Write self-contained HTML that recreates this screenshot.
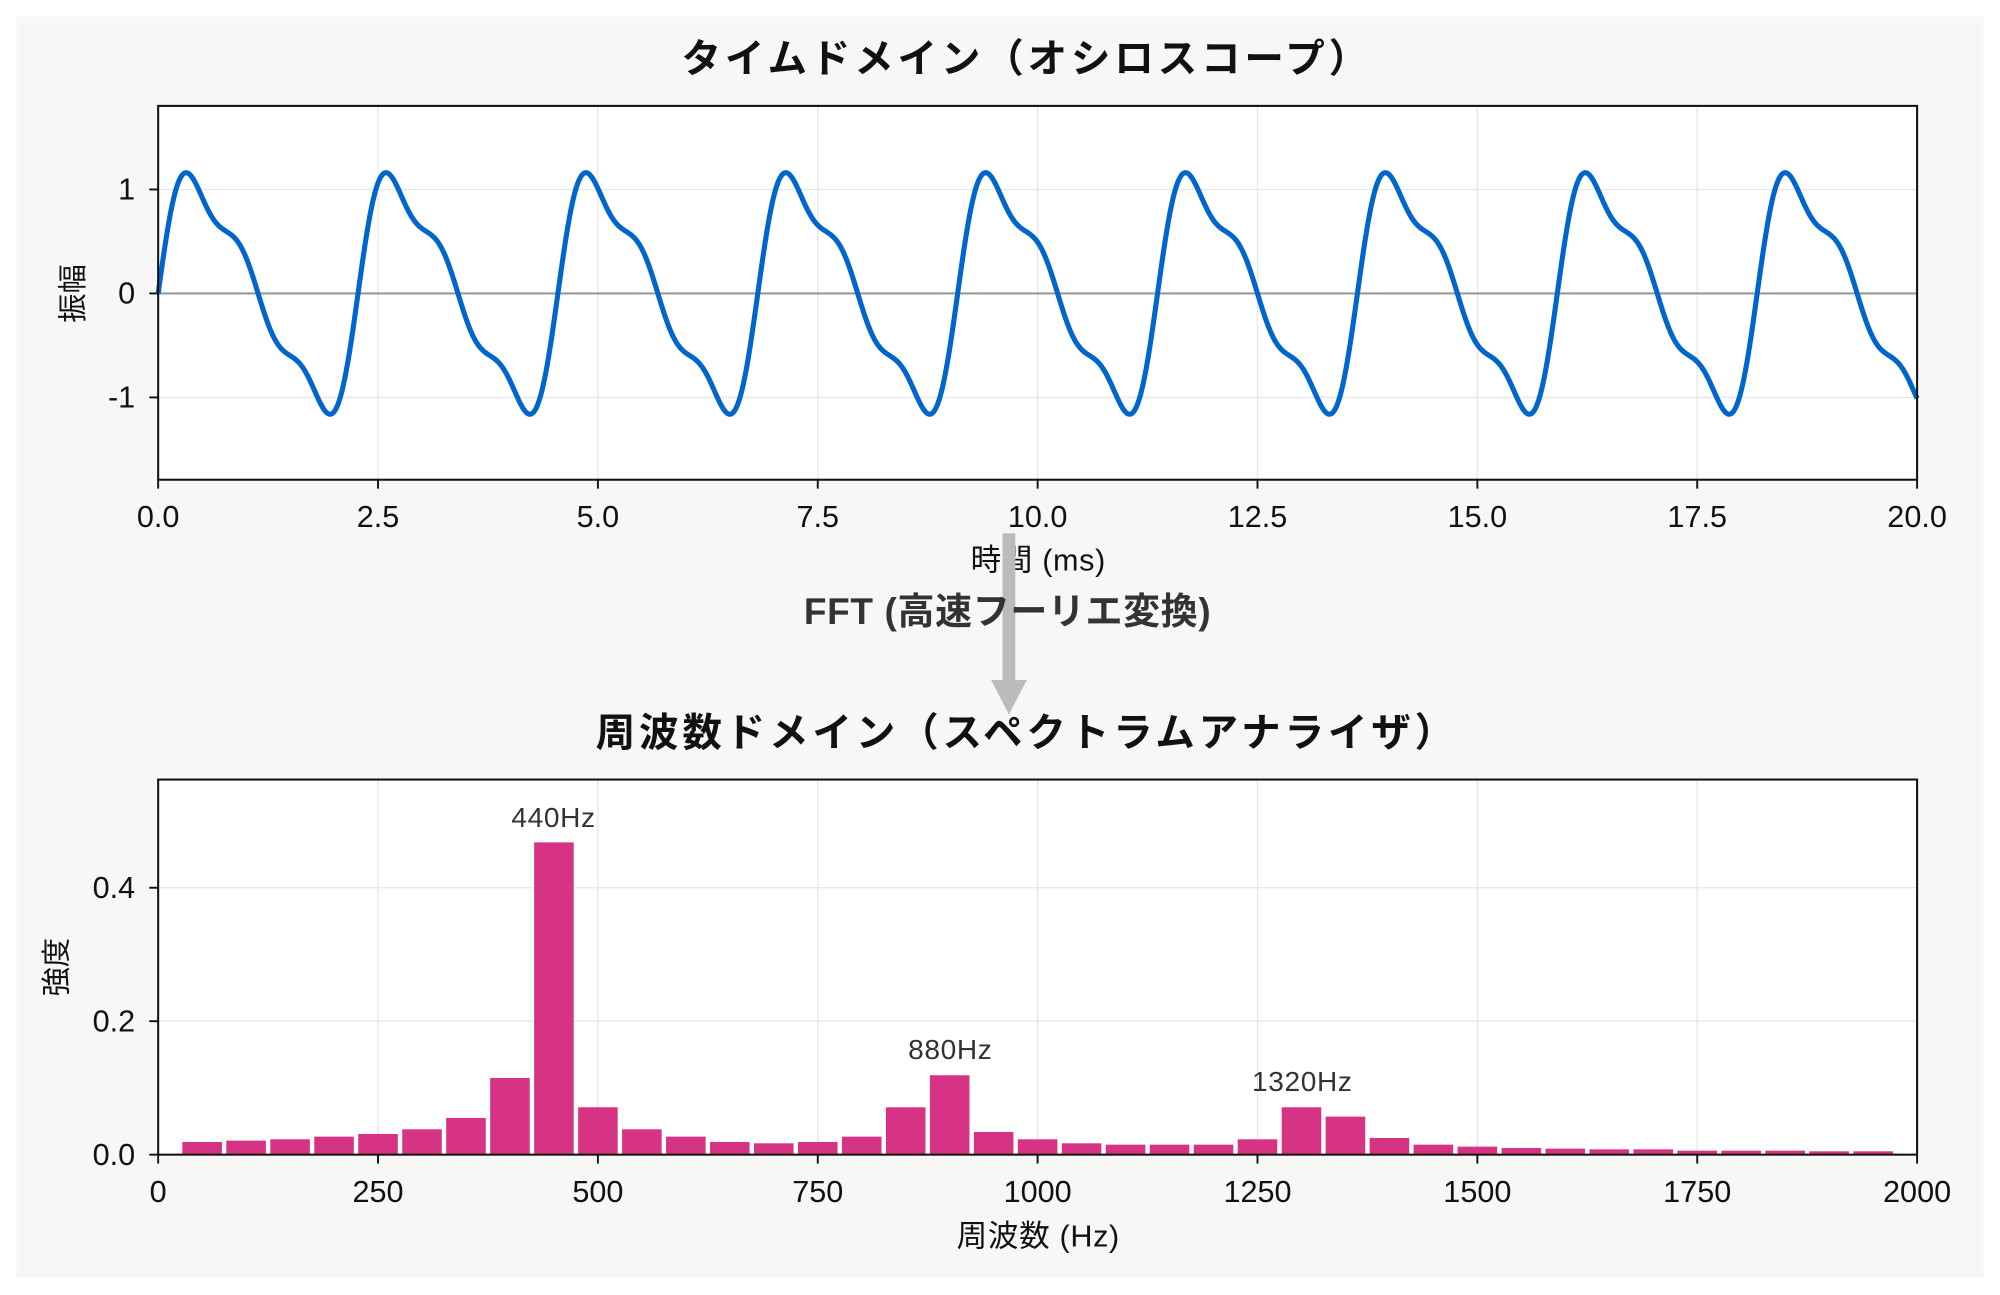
<!DOCTYPE html>
<html><head><meta charset="utf-8">
<style>
html,body{margin:0;padding:0;background:#fff;}
svg{display:block;}
text{font-family:"Liberation Sans","Noto Sans CJK JP",sans-serif;}
</style></head>
<body>
<svg id="s" width="2000" height="1295" viewBox="0 0 1568 1015" preserveAspectRatio="none" xmlns="http://www.w3.org/2000/svg">
<rect x="0" y="0" width="1568" height="1015" fill="#fff"/>
<rect x="13" y="13" width="1542" height="988" fill="#f7f7f7"/>
<text x="805" y="57" font-size="31" font-weight="bold" text-anchor="middle" fill="#111" letter-spacing="3">タイムドメイン（オシロスコープ）</text>
<rect x="124" y="83" width="1379" height="293" fill="#fff"/>
<g id="g1"></g>
<rect x="124" y="83" width="1379" height="293" fill="none" stroke="#111" stroke-width="1.6"/>
<text x="814" y="447" font-size="24" text-anchor="middle" fill="#111" letter-spacing="0.5">時間 (ms)</text>
<text transform="translate(65,230) rotate(-90)" font-size="23" text-anchor="middle" fill="#111">振幅</text>

<rect x="786" y="418" width="10" height="120" fill="#bbb"/>
<polygon points="777,533 805,533 791,560" fill="#bbb"/>
<text x="790" y="489" font-size="29" font-weight="bold" text-anchor="middle" fill="#333" letter-spacing="0.5">FFT (高速フーリエ変換)</text>

<text x="805" y="585" font-size="31" font-weight="bold" text-anchor="middle" fill="#111" letter-spacing="3">周波数ドメイン（スペクトラムアナライザ）</text>
<rect x="124" y="611" width="1379" height="294" fill="#fff"/>
<g id="g2"></g>
<rect x="124" y="611" width="1379" height="294" fill="none" stroke="#111" stroke-width="1.6"/>
<text x="814" y="977" font-size="24" text-anchor="middle" fill="#111" letter-spacing="0.5">周波数 (Hz)</text>
<text transform="translate(52,758) rotate(-90)" font-size="23" text-anchor="middle" fill="#111">強度</text>
<text x="434" y="648" font-size="22" text-anchor="middle" fill="#333" letter-spacing="0.5">440Hz</text>
<text x="745" y="830" font-size="22" text-anchor="middle" fill="#333" letter-spacing="0.5">880Hz</text>
<text x="1021" y="855" font-size="22" text-anchor="middle" fill="#333" letter-spacing="0.5">1320Hz</text>
</svg>
<script>
const NS="http://www.w3.org/2000/svg";
function el(p,t,a,txt){const e=document.createElementNS(NS,t);for(const k in a)e.setAttribute(k,a[k]);if(txt!==undefined)e.textContent=txt;p.appendChild(e);return e;}
const g1=document.getElementById('g1'),g2=document.getElementById('g2');
const X0=124,X1=1503;
const tx=t=>X0+t*(X1-X0)/20, ty=v=>230-v*81.5;
for(let i=0;i<=8;i++){const x=tx(i*2.5);
 el(g1,'line',{x1:x,x2:x,y1:83,y2:376,stroke:'#e6e6e6','stroke-width':1});
 el(g1,'line',{x1:x,x2:x,y1:376,y2:383,stroke:'#111','stroke-width':1.5});
 el(g1,'text',{x:x,y:413,'font-size':24,'text-anchor':'middle',fill:'#111'},(i*2.5).toFixed(1));}
[1,0,-1].forEach(v=>{const y=ty(v);
 if(v!==0)el(g1,'line',{x1:124,x2:1503,y1:y,y2:y,stroke:'#e6e6e6','stroke-width':1});
 el(g1,'line',{x1:117,x2:124,y1:y,y2:y,stroke:'#111','stroke-width':1.5});
 el(g1,'text',{x:106,y:y+8,'font-size':24,'text-anchor':'end',fill:'#111'},String(v));});
el(g1,'line',{x1:124,x2:1503,y1:230,y2:230,stroke:'#999','stroke-width':1.6});
let d='';
for(let i=0;i<=2000;i++){const t=i*0.01;const x=2*Math.PI*0.44*t;
 const v=Math.sin(x)+0.3*Math.sin(2*x)+0.2*Math.sin(3*x);
 d+=(i?'L':'M')+tx(t).toFixed(2)+','+ty(v).toFixed(2);}
el(g1,'path',{d:d,fill:'none',stroke:'#0066cc','stroke-width':4,'stroke-linejoin':'round'});
const fx=f=>X0+f*(X1-X0)/2000, fy=v=>905-v*523;
for(let i=0;i<=8;i++){const x=fx(i*250);
 el(g2,'line',{x1:x,x2:x,y1:611,y2:905,stroke:'#e6e6e6','stroke-width':1});
 el(g2,'line',{x1:x,x2:x,y1:905,y2:912,stroke:'#111','stroke-width':1.5});
 el(g2,'text',{x:x,y:942,'font-size':24,'text-anchor':'middle',fill:'#111'},String(i*250));}
[0,0.2,0.4].forEach(v=>{const y=fy(v);
 if(v)el(g2,'line',{x1:124,x2:1503,y1:y,y2:y,stroke:'#e6e6e6','stroke-width':1});
 el(g2,'line',{x1:117,x2:124,y1:y,y2:y,stroke:'#111','stroke-width':1.5});
 el(g2,'text',{x:106,y:y+8,'font-size':24,'text-anchor':'end',fill:'#111'},v.toFixed(1));});
const h=[.019,.021,.023,.027,.031,.038,.055,.115,.468,.071,.038,.027,.019,.017,.019,.027,.071,.119,.034,.023,.017,.015,.015,.015,.023,.071,.057,.025,.015,.012,.010,.009,.008,.008,.006,.006,.006,.005,.005];
h.forEach((v,i)=>{const c=50*(i+1);const x=fx(c-22.5),w=fx(45)-X0;
 el(g2,'rect',{x:x,y:fy(v),width:w,height:905-fy(v),fill:'#d63384'});});
</script>
</body></html>
